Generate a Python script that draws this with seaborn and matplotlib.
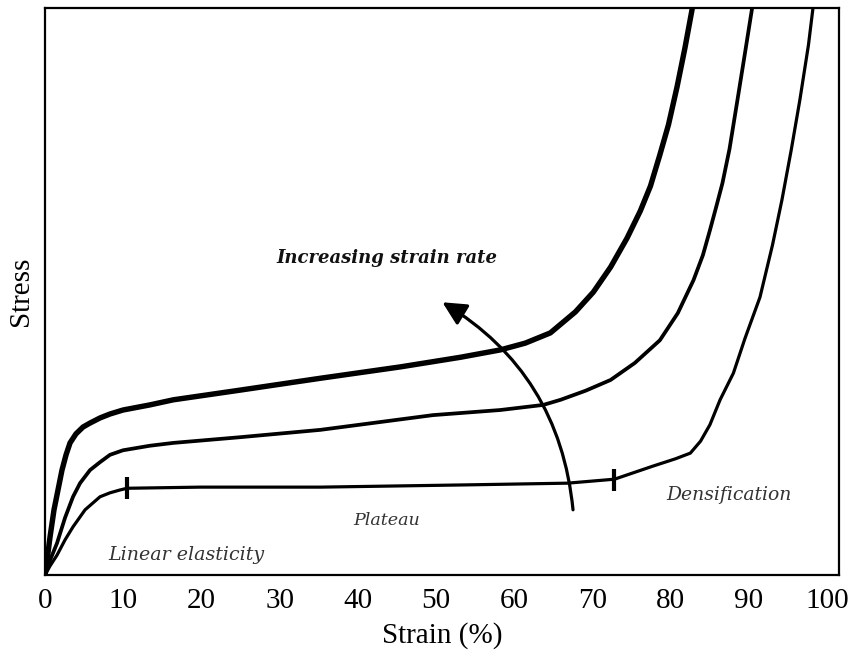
import matplotlib
matplotlib.use("Agg")
import matplotlib.pyplot as plt
import seaborn as sns
import pandas as pd

# Schematic compressive stress-strain curves of a cellular solid
# at three strain rates (strain in %, stress in arbitrary units).
strain_high = [0, 0.26, 0.64, 1.15, 1.66, 2.17, 2.69, 3.2, 3.96, 4.86, 5.75,
               7.03, 8.31, 9.97, 13.4, 16.4, 24.9, 35.2, 45.4, 53.1, 58.2,
               61.4, 64.6, 67.8, 70.1, 72.3, 74.4, 76.1, 77.4, 78.6, 79.7,
               80.8, 81.8, 82.7, 82.9]
stress_high = [0, 2.6, 6.7, 11.5, 15.0, 18.5, 21.2, 23.3, 24.9, 26.1, 26.8,
               27.7, 28.4, 29.1, 30.0, 30.9, 32.6, 34.7, 36.7, 38.4, 39.7,
               40.9, 42.7, 46.4, 49.9, 54.3, 59.4, 64.2, 68.6, 74.1, 79.4,
               86.1, 92.9, 99.6, 101.4]

strain_mid = [0, 0.64, 1.53, 2.56, 3.58, 4.48, 5.75, 7.03, 8.31, 9.97, 13.4,
              16.4, 24.9, 35.2, 49.6, 58.2, 63.7, 65.9, 69.1, 72.3, 75.4,
              78.6, 80.9, 82.9, 84.1, 85.0, 85.8, 86.6, 87.5, 88.5, 89.5,
              90.5, 90.6]
stress_mid = [0, 2.6, 5.6, 10.1, 13.8, 16.2, 18.5, 19.9, 21.2, 22.0, 22.8,
              23.3, 24.3, 25.6, 28.2, 29.1, 30.0, 30.9, 32.5, 34.4, 37.4,
              41.4, 46.2, 52.0, 56.4, 60.8, 64.9, 69.1, 75.1, 83.6, 92.2,
              100.9, 101.4]

strain_low = [0, 0.64, 1.53, 2.56, 3.58, 5.12, 7.03, 8.31, 9.59, 10.5, 19.8,
              35.2, 54.0, 66.8, 72.8, 77.7, 80.6, 82.5, 83.8, 85.0, 86.3,
              88.0, 89.5, 91.4, 93.0, 94.2, 95.4, 96.5, 97.6, 98.3]
stress_low = [0, 1.6, 3.5, 6.2, 8.5, 11.5, 13.8, 14.5, 15.0, 15.3, 15.5,
              15.5, 15.9, 16.2, 16.9, 19.2, 20.5, 21.5, 23.6, 26.5, 30.9,
              35.6, 41.8, 49.0, 58.2, 66.1, 75.0, 83.8, 93.5, 101.4]

# Boundaries between the elastic, plateau and densification regimes
regime_strain = [10.5, 72.8]
regime_stress = [15.3, 16.8]

x_ticks = [0, 10, 20, 30, 40, 50, 60, 70, 80, 90, 100]

curves = pd.concat([
    pd.DataFrame({"strain": strain_high, "stress": stress_high, "rate": "high"}),
    pd.DataFrame({"strain": strain_mid, "stress": stress_mid, "rate": "mid"}),
    pd.DataFrame({"strain": strain_low, "stress": stress_low, "rate": "low"}),
])

sns.set_theme(style="white")
plt.rcParams["font.family"] = ["Liberation Serif", "DejaVu Serif"]

fig = plt.figure(figsize=(8.59, 6.66), dpi=100)
ax = fig.add_axes([0.0524, 0.1366, 0.9243, 0.8514])

widths = {"high": 3.9, "mid": 2.7, "low": 2.3}
for rate, grp in curves.groupby("rate", sort=False):
    sns.lineplot(data=grp, x="strain", y="stress", sort=False, estimator=None,
                 color="black", linewidth=widths[rate], ax=ax,
                 solid_capstyle="round", solid_joinstyle="round")

ax.plot(regime_strain, regime_stress, linestyle="none", marker="|",
        markersize=16, markeredgewidth=3.0, color="black")

# Curved arrow pointing towards the faster-rate curves
ax.annotate("", xy=(50.8, 48.1), xytext=(67.5, 11.5),
            arrowprops=dict(arrowstyle="-|>,head_length=1.3,head_width=0.65",
                            connectionstyle="arc3,rad=0.25", color="black",
                            lw=2.3, shrinkA=0, shrinkB=0, mutation_scale=11))

ax.text(43.7, 55.9, "Increasing strain rate", ha="center", va="center",
        fontsize=13, fontweight="bold", fontstyle="italic",
        family="DejaVu Serif", color="#111111")
ax.text(18.1, 3.5, "Linear elasticity", ha="center", va="center",
        fontsize=13.7, fontstyle="italic", family="DejaVu Serif", color="#333333")
ax.text(43.7, 9.7, "Plateau", ha="center", va="center",
        fontsize=12.6, fontstyle="italic", family="DejaVu Serif", color="#333333")
ax.text(87.4, 14.1, "Densification", ha="center", va="center",
        fontsize=13.5, fontstyle="italic", family="DejaVu Serif", color="#333333")

ax.set_xlim(0, 101.5)
ax.set_ylim(0, 100)
ax.set_xticks(x_ticks)
ax.set_xticklabels([str(t) for t in x_ticks])
ax.set_yticks([])
ax.tick_params(axis="x", length=0, pad=9, labelsize=21, colors="black")
ax.set_xlabel("Strain (%)", fontsize=21, color="black", labelpad=6)
ax.set_ylabel("Stress", fontsize=21, color="black", labelpad=8)
for side in ax.spines.values():
    side.set_visible(True)
    side.set_color("black")
    side.set_linewidth(1.6)

fig.savefig("out.png", dpi=100, facecolor="white")
